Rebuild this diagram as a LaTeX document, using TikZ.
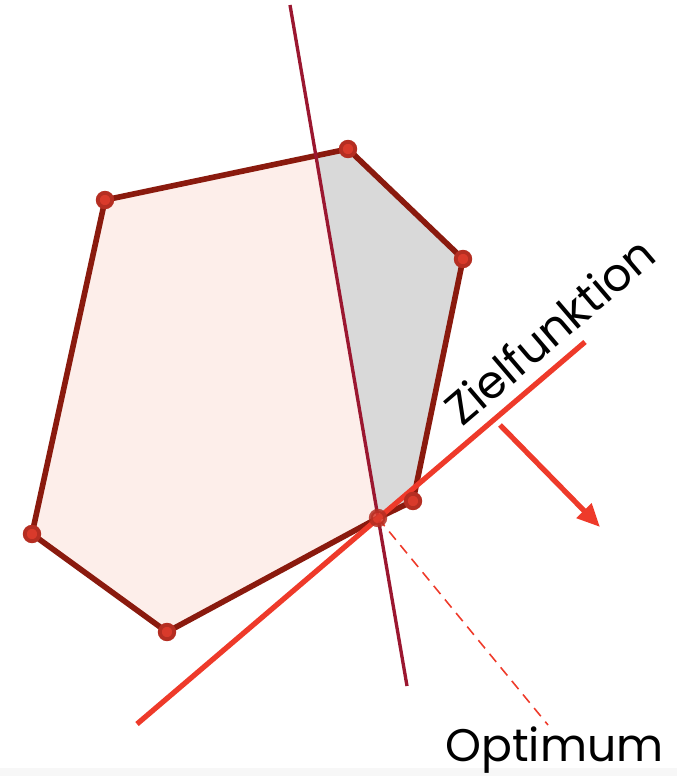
\documentclass[tikz,border=0pt]{standalone}
\usepackage{fontspec}
\setmainfont{Poppins}
\usetikzlibrary{arrows.meta, calc}

\definecolor{edgered}{HTML}{8A1A0E}
\definecolor{cutred}{HTML}{9B1730}
\definecolor{objred}{HTML}{EE3A2A}
\definecolor{polyfill}{HTML}{FDEEEA}
\definecolor{cutfill}{HTML}{D9D9D9}
\definecolor{dotred}{HTML}{D93A2B}
\definecolor{dotdark}{HTML}{B52E22}

\begin{document}
\begin{tikzpicture}[
    x=0.02cm, y=-0.02cm,
    vertex/.style={circle, fill=dotred, draw=dotdark, line width=2.2pt, inner sep=0pt, minimum size=0.29cm},
    edge/.style={draw=edgered, line width=3.2pt, line join=round},
    cut/.style={draw=cutred, line width=1.9pt},
    objective/.style={draw=objred, line width=3pt},
    label/.style={font=\fontsize{26}{30}\selectfont, text=black, inner sep=0pt}
]
    \useasboundingbox (0,0) rectangle (677,776);
    \fill[black!3] (0,768) rectangle (677,776);

    % Polygon corners
    \coordinate (pA) at (105,200);
    \coordinate (pB) at (348,149);
    \coordinate (pC) at (463,259);
    \coordinate (pD) at (413,501);
    \coordinate (pE) at (378,518);
    \coordinate (pF) at (167,632);
    \coordinate (pG) at (32,534);

    % Cutting plane and objective
    \coordinate (cutTop) at (290,5);
    \coordinate (cutBot) at (407,686);
    \coordinate (objLow) at (137,724);
    \coordinate (objHigh) at (585,342);
    \coordinate (dirStart) at (500,425);
    \coordinate (dirEnd) at (600,527);
    \coordinate (optEnd) at (548,725);
    \coordinate (cutAB) at (intersection of pA--pB and cutTop--cutBot);

    % Regions
    \fill[polyfill] (pA) -- (pB) -- (pC) -- (pD) -- (pE) -- (pF) -- (pG) -- cycle;
    \fill[cutfill] (cutAB) -- (pB) -- (pC) -- (pD) -- (pE) -- cycle;
    \draw[edge] (pA) -- (pB) -- (pC) -- (pD) -- (pE) -- (pF) -- (pG) -- cycle;

    % Lines
    \draw[cut] (cutTop) -- (cutBot);
    \draw[objred, line width=0.9pt, dash pattern=on 6pt off 4pt] (pE) -- (optEnd);
    \draw[objective] (objLow) -- (objHigh);
    \draw[objective, -{Triangle[length=0.46cm, width=0.4cm]}] (dirStart) -- (dirEnd);

    % Corner dots
    \foreach \p in {A,B,C,D,F,G}
        \node[vertex] (d\p) at (p\p) {};
    \node[vertex, opacity=0.85] (dE) at (pE) {};

    % Labels
    \node[label, rotate=40.5, anchor=base west] (zf) at (462,428) {Zielfunktion};
    \node[label, anchor=base west] (opt) at (445,761) {Optimum};
\end{tikzpicture}
\end{document}
